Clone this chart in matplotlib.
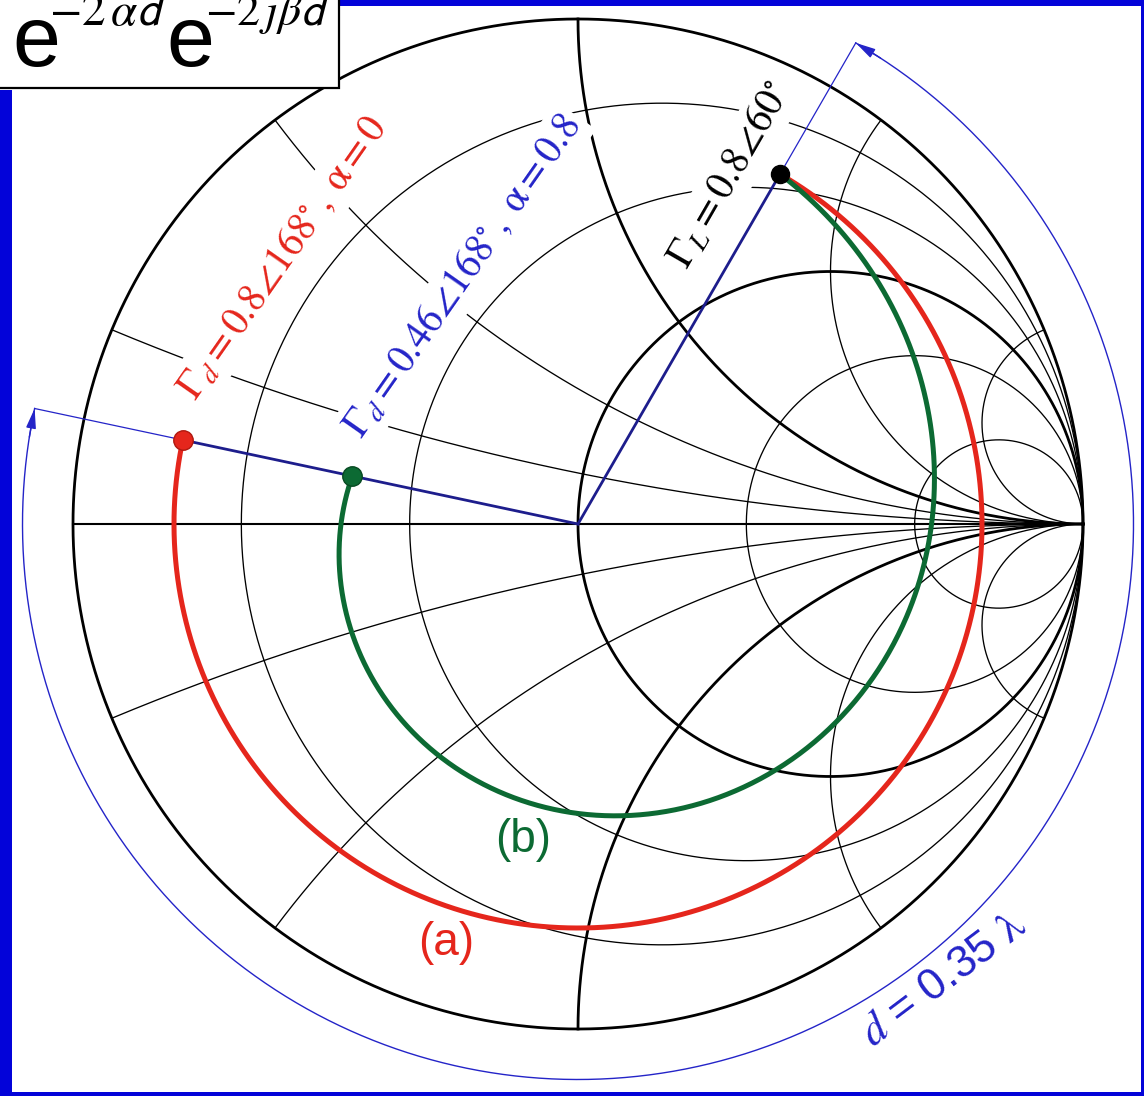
import numpy as np
import matplotlib.pyplot as plt
from matplotlib.patches import Rectangle

plt.rcParams['mathtext.fontset'] = 'stix'

# ---- chart values ----
r_values = [0.2, 0.5, 1, 2, 5]          # resistance circles
x_values = [0.2, 0.5, 1, 2, 5]          # reactance arcs (+ and -)
gammaL_mag = 0.8
gammaL_deg = 60.
d_len = 0.35                            # line length in wavelengths
alphas = [0.0, 0.8]                     # (a) lossless, (b) lossy
curve_names = ['(a)', '(b)']
curve_colors = ['#e5261c', '#0c6a33']
dot_edges = ['#b0180f', '#074a22']

navy = '#1d1d8c'
blue = '#2424c8'
frame_blue = '#0303d9'

W, H = 1144, 1096
cx, cy, R = 578, 524, 505

def pix(px, py):
    return (px - cx) / R, (cy - py) / R

fig = plt.figure(figsize=(W / 100, H / 100), dpi=100)
ax = fig.add_axes([0, 0, 1, 1])
ax.set_xlim(-cx / R, (W - cx) / R)
ax.set_ylim(-(H - cy) / R, cy / R)
ax.axis('off')

thin, thick = 0.95, 2.0

# ======================= SMITH CHART GRID =====================
t = np.linspace(0, 2 * np.pi, 1500)
ax.plot(np.cos(t), np.sin(t), 'k', lw=thick, zorder=1)
for r in r_values:
    c, rad = r / (1 + r), 1 / (1 + r)
    ax.plot(c + rad * np.cos(t), rad * np.sin(t), 'k',
            lw=thick if r == 1 else thin, zorder=1)

rr = np.concatenate([[0], np.logspace(-3, 4, 3000)])
for x in x_values:
    for s in (1, -1):
        z = rr + 1j * s * x
        g = (z - 1) / (z + 1)
        ax.plot(g.real, g.imag, 'k', lw=thick if x == 1 else thin, zorder=1)
ax.plot([-1, 1], [0, 0], 'k', lw=1.5, zorder=1)

# ======================= RADIAL LINES + ARC ARROW =====================
gd_deg = gammaL_deg - 720 * d_len + 360
r_arc = 1.10
for ang in (gammaL_deg, gd_deg):
    u = np.exp(1j * np.deg2rad(ang))
    ax.plot([0, gammaL_mag * u.real], [0, gammaL_mag * u.imag], color=navy, lw=2.0, zorder=4)
    ax.plot([gammaL_mag * u.real, r_arc * u.real], [gammaL_mag * u.imag, r_arc * u.imag],
            color=blue, lw=0.9, zorder=4)

phi = np.deg2rad(np.linspace(gammaL_deg, gd_deg - 360, 600))
ax.plot(r_arc * np.cos(phi), r_arc * np.sin(phi), color=blue, lw=1.0, zorder=4)
for a_tip, a_tail in ((gammaL_deg, gammaL_deg - 3), (gd_deg, gd_deg + 3)):
    tip = r_arc * np.exp(1j * np.deg2rad(a_tip))
    tail = r_arc * np.exp(1j * np.deg2rad(a_tail))
    ax.annotate('', xy=(tip.real, tip.imag), xytext=(tail.real, tail.imag),
                arrowprops=dict(arrowstyle='-|>,head_length=0.6,head_width=0.15',
                                color=blue, lw=1.0, shrinkA=0, shrinkB=0,
                                mutation_scale=20), zorder=4)

# ======================= Gamma(d) CURVES =====================
dd = np.linspace(0, d_len, 600)
for a, col, ec in zip(alphas, curve_colors, dot_edges):
    g = gammaL_mag * np.exp(-2 * a * dd) * np.exp(1j * np.deg2rad(gammaL_deg - 720 * dd))
    ax.plot(g.real, g.imag, color=col, lw=3.6, zorder=5)
    ax.plot(g.real[-1], g.imag[-1], 'o', color=col, mec=ec, mew=1.0, ms=14, zorder=6)
gL = gammaL_mag * np.exp(1j * np.deg2rad(gammaL_deg))
ax.plot(gL.real, gL.imag, 'o', color='k', ms=13, zorder=7)

# ======================= LABELS =====================
box = dict(boxstyle='square,pad=0.12', fc='white', ec='none')
ax.text(*pix(688, 270), r'$\Gamma_L = 0.8\angle 60^{\circ}$', rotation=60,
        rotation_mode='anchor', ha='left', va='baseline', fontsize=28.5,
        color='k', bbox=box, zorder=3)
ax.text(*pix(196, 402), r'$\Gamma_d = 0.8\angle 168^{\circ}\,,\;\mathrm{\alpha} = 0$',
        rotation=55, rotation_mode='anchor', ha='left', va='baseline', fontsize=28.5,
        color=curve_colors[0], bbox=box, zorder=3)
ax.text(*pix(362, 440), r'$\Gamma_d = 0.46\angle 168^{\circ}\,,\;\mathrm{\alpha} = 0.8$',
        rotation=55, rotation_mode='anchor', ha='left', va='baseline', fontsize=28.5,
        color=blue, bbox=box, zorder=3)

ax.text(*pix(446, 943), curve_names[0], color=curve_colors[0], fontsize=33,
        family='Liberation Sans', ha='center', va='center', zorder=3)
ax.text(*pix(523, 840), curve_names[1], color=curve_colors[1], fontsize=33,
        family='Liberation Sans', ha='center', va='center', zorder=3)
ax.text(*pix(872, 1047), r'$d$ = %g $\mathrm{\lambda}$' % d_len, rotation=37,
        rotation_mode='anchor', ha='left', va='baseline', fontsize=32,
        family='Liberation Sans', color=blue, zorder=3)

# ======================= FRAME + FORMULA BOX =====================
def px_rect(x0, y0, x1, y1, **kw):
    fig.patches.append(Rectangle((x0 / W, 1 - y1 / H), (x1 - x0) / W, (y1 - y0) / H,
                                 transform=fig.transFigure, **kw))

px_rect(0, 90, 12, H, fc=frame_blue, ec='none', zorder=20)
px_rect(340, 0, W, 6, fc=frame_blue, ec='none', zorder=20)
px_rect(0, 1092, W, H, fc=frame_blue, ec='none', zorder=20)
px_rect(1141, 0, W, H, fc=frame_blue, ec='none', zorder=20)
px_rect(-5, -5, 339, 88, fc='white', ec='k', lw=1.6, zorder=21)

fig.text(12 / W, 1 - 66 / H, 'e', fontsize=62, family='Liberation Sans',
         ha='left', va='baseline', zorder=22)
fig.text(49 / W, 1 - 25 / H, r'$-2\,\alpha\mathsf{d}$', fontsize=34,
         ha='left', va='baseline', zorder=22)
fig.text(166 / W, 1 - 66 / H, 'e', fontsize=62, family='Liberation Sans',
         ha='left', va='baseline', zorder=22)
fig.text(205 / W, 1 - 25 / H, r'$-2\,j\beta\mathsf{d}$', fontsize=33,
         ha='left', va='baseline', zorder=22)

fig.savefig('out.png', dpi=100)
